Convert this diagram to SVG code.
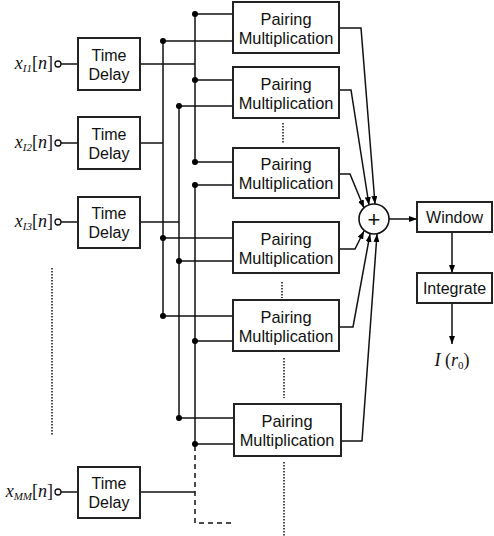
<svg xmlns="http://www.w3.org/2000/svg" width="494" height="536" viewBox="0 0 494 536">
<style>
.box{fill:#fff;stroke:#222;stroke-width:2}
.ln{fill:none;stroke:#111;stroke-width:1.5}
.arr{fill:none;stroke:#111;stroke-width:1.5;marker-end:url(#ah)}
.dot{fill:#000}
.dotted{fill:none;stroke:#111;stroke-width:1.5;stroke-dasharray:1.5 1.5}
.dashed{fill:none;stroke:#111;stroke-width:1.5;stroke-dasharray:5 4}
.t{font-family:"Liberation Sans",Arial,sans-serif;font-size:16px;fill:#111;text-anchor:middle}
.pm{font-size:16.4px}
.plus{font-size:22px}
.m{font-family:"Liberation Serif","Times New Roman",serif;font-size:18px;fill:#111}
.io{fill:#fff;stroke:#111;stroke-width:1.3}
</style>
<defs>
<marker id="ah" viewBox="0 0 8 6" refX="8" refY="3" markerWidth="8" markerHeight="6" markerUnits="userSpaceOnUse" orient="auto">
<path d="M0,0 L8,3 L0,6 z" fill="#000"/>
</marker>
</defs>

<g id="connectors">
<line class="ln" x1="61" y1="64" x2="78" y2="64"/>
<line class="ln" x1="61" y1="143" x2="78" y2="143"/>
<line class="ln" x1="61" y1="222" x2="78" y2="222"/>
<line class="ln" x1="61" y1="492" x2="78" y2="492"/>
<line class="ln" x1="140" y1="64" x2="195" y2="64"/>
<line class="ln" x1="140" y1="143" x2="163" y2="143"/>
<line class="ln" x1="140" y1="222" x2="179" y2="222"/>
<line class="ln" x1="140" y1="492" x2="195" y2="492"/>
<line class="ln" x1="195" y1="14" x2="195" y2="162"/>
<line class="ln" x1="163" y1="41" x2="163" y2="316"/>
<line class="ln" x1="179" y1="106" x2="179" y2="418"/>
<line class="ln" x1="195" y1="185" x2="195" y2="444"/>
<path class="dashed" d="M195,446 V523 H232"/>
<line class="ln" x1="195" y1="14" x2="233" y2="14"/>
<line class="ln" x1="163" y1="41" x2="233" y2="41"/>
<line class="ln" x1="195" y1="80" x2="233" y2="80"/>
<line class="ln" x1="179" y1="106" x2="233" y2="106"/>
<line class="ln" x1="195" y1="162" x2="233" y2="162"/>
<line class="ln" x1="195" y1="185" x2="233" y2="185"/>
<line class="ln" x1="163" y1="238" x2="233" y2="238"/>
<line class="ln" x1="179" y1="261" x2="233" y2="261"/>
<line class="ln" x1="163" y1="316" x2="233" y2="316"/>
<line class="ln" x1="195" y1="341" x2="233" y2="341"/>
<line class="ln" x1="179" y1="418" x2="233" y2="418"/>
<line class="ln" x1="195" y1="444" x2="233" y2="444"/>
<circle class="dot" cx="195" cy="14" r="3"/>
<circle class="dot" cx="163" cy="41" r="3"/>
<circle class="dot" cx="195" cy="80" r="3"/>
<circle class="dot" cx="179" cy="106" r="3"/>
<circle class="dot" cx="195" cy="162" r="3"/>
<circle class="dot" cx="195" cy="185" r="3"/>
<circle class="dot" cx="163" cy="238" r="3"/>
<circle class="dot" cx="179" cy="261" r="3"/>
<circle class="dot" cx="163" cy="316" r="3"/>
<circle class="dot" cx="195" cy="341" r="3"/>
<circle class="dot" cx="179" cy="418" r="3"/>
<circle class="dot" cx="195" cy="444" r="3"/>
<path class="arr" d="M339,28 H361 L375,204"/>
<path class="arr" d="M339,90 H351 L369,205"/>
<path class="arr" d="M339,174 H350 L364,208"/>
<path class="arr" d="M339,249 H355 L364,231"/>
<path class="arr" d="M339,327 H353 L370,234"/>
<path class="arr" d="M341,441 H362 L377,234"/>
<line class="arr" x1="389" y1="219" x2="417" y2="219"/>
<line class="arr" x1="452" y1="232" x2="452" y2="273"/>
<line class="arr" x1="452" y1="303" x2="452" y2="344"/>
<line class="dotted" x1="52" y1="268" x2="52" y2="435"/>
<line class="dotted" x1="283" y1="123" x2="283" y2="143"/>
<line class="dotted" x1="282" y1="282" x2="282" y2="298"/>
<line class="dotted" x1="284" y1="358" x2="284" y2="398"/>
<line class="dotted" x1="284" y1="462" x2="284" y2="536"/>
</g>

<g id="in1">
<circle class="io" cx="58" cy="64" r="3"/>
<text class="m" x="53" y="69" text-anchor="end"><tspan font-style="italic">x</tspan><tspan font-style="italic" font-size="11" dy="3">I1</tspan><tspan dy="-3">[</tspan><tspan font-style="italic">n</tspan>]</text>
</g>
<g id="in2">
<circle class="io" cx="58" cy="143" r="3"/>
<text class="m" x="53" y="148" text-anchor="end"><tspan font-style="italic">x</tspan><tspan font-style="italic" font-size="11" dy="3">I2</tspan><tspan dy="-3">[</tspan><tspan font-style="italic">n</tspan>]</text>
</g>
<g id="in3">
<circle class="io" cx="58" cy="222" r="3"/>
<text class="m" x="53" y="227" text-anchor="end"><tspan font-style="italic">x</tspan><tspan font-style="italic" font-size="11" dy="3">I3</tspan><tspan dy="-3">[</tspan><tspan font-style="italic">n</tspan>]</text>
</g>
<g id="inMM">
<circle class="io" cx="58" cy="492" r="3"/>
<text class="m" x="53" y="497" text-anchor="end"><tspan font-style="italic">x</tspan><tspan font-style="italic" font-size="11" dy="3">MM</tspan><tspan dy="-3">[</tspan><tspan font-style="italic">n</tspan>]</text>
</g>

<g id="delay1"><rect class="box" x="78" y="38" width="62" height="52"/><text class="t" x="109" y="61">Time</text><text class="t" x="109" y="80">Delay</text></g>
<g id="delay2"><rect class="box" x="78" y="117" width="62" height="52"/><text class="t" x="109" y="140">Time</text><text class="t" x="109" y="159">Delay</text></g>
<g id="delay3"><rect class="box" x="78" y="197" width="62" height="51"/><text class="t" x="109" y="219">Time</text><text class="t" x="109" y="238">Delay</text></g>
<g id="delayMM"><rect class="box" x="78" y="467" width="62" height="51"/><text class="t" x="109" y="489">Time</text><text class="t" x="109" y="508">Delay</text></g>

<g id="pm1"><rect class="box" x="233" y="2" width="106" height="51"/><text class="t pm" x="286" y="25">Pairing</text><text class="t pm" x="286" y="44">Multiplication</text></g>
<g id="pm2"><rect class="box" x="233" y="67" width="106" height="51"/><text class="t pm" x="286" y="90">Pairing</text><text class="t pm" x="286" y="109">Multiplication</text></g>
<g id="pm3"><rect class="box" x="233" y="148" width="106" height="50"/><text class="t pm" x="286" y="170">Pairing</text><text class="t pm" x="286" y="189">Multiplication</text></g>
<g id="pm4"><rect class="box" x="233" y="222" width="106" height="51"/><text class="t pm" x="286" y="245">Pairing</text><text class="t pm" x="286" y="264">Multiplication</text></g>
<g id="pm5"><rect class="box" x="233" y="300" width="106" height="51"/><text class="t pm" x="286" y="323">Pairing</text><text class="t pm" x="286" y="342">Multiplication</text></g>
<g id="pm6"><rect class="box" x="234" y="404" width="107" height="52"/><text class="t pm" x="287" y="427">Pairing</text><text class="t pm" x="287" y="446">Multiplication</text></g>

<g id="sum"><circle cx="374" cy="219" r="15" fill="#fff" stroke="#111" stroke-width="1.6"/><text class="t plus" x="374" y="227">+</text></g>
<g id="window"><rect class="box" x="417" y="202" width="75" height="30"/><text class="t" x="454.5" y="223">Window</text></g>
<g id="integrate"><rect class="box" x="417" y="273" width="75" height="30"/><text class="t" x="454.5" y="294">Integrate</text></g>
<g id="output"><text class="m" x="452" y="366" text-anchor="middle"><tspan font-style="italic">I</tspan> (<tspan font-style="italic">r</tspan><tspan font-size="11" dy="3">0</tspan><tspan dy="-3">)</tspan></text></g>
</svg>
